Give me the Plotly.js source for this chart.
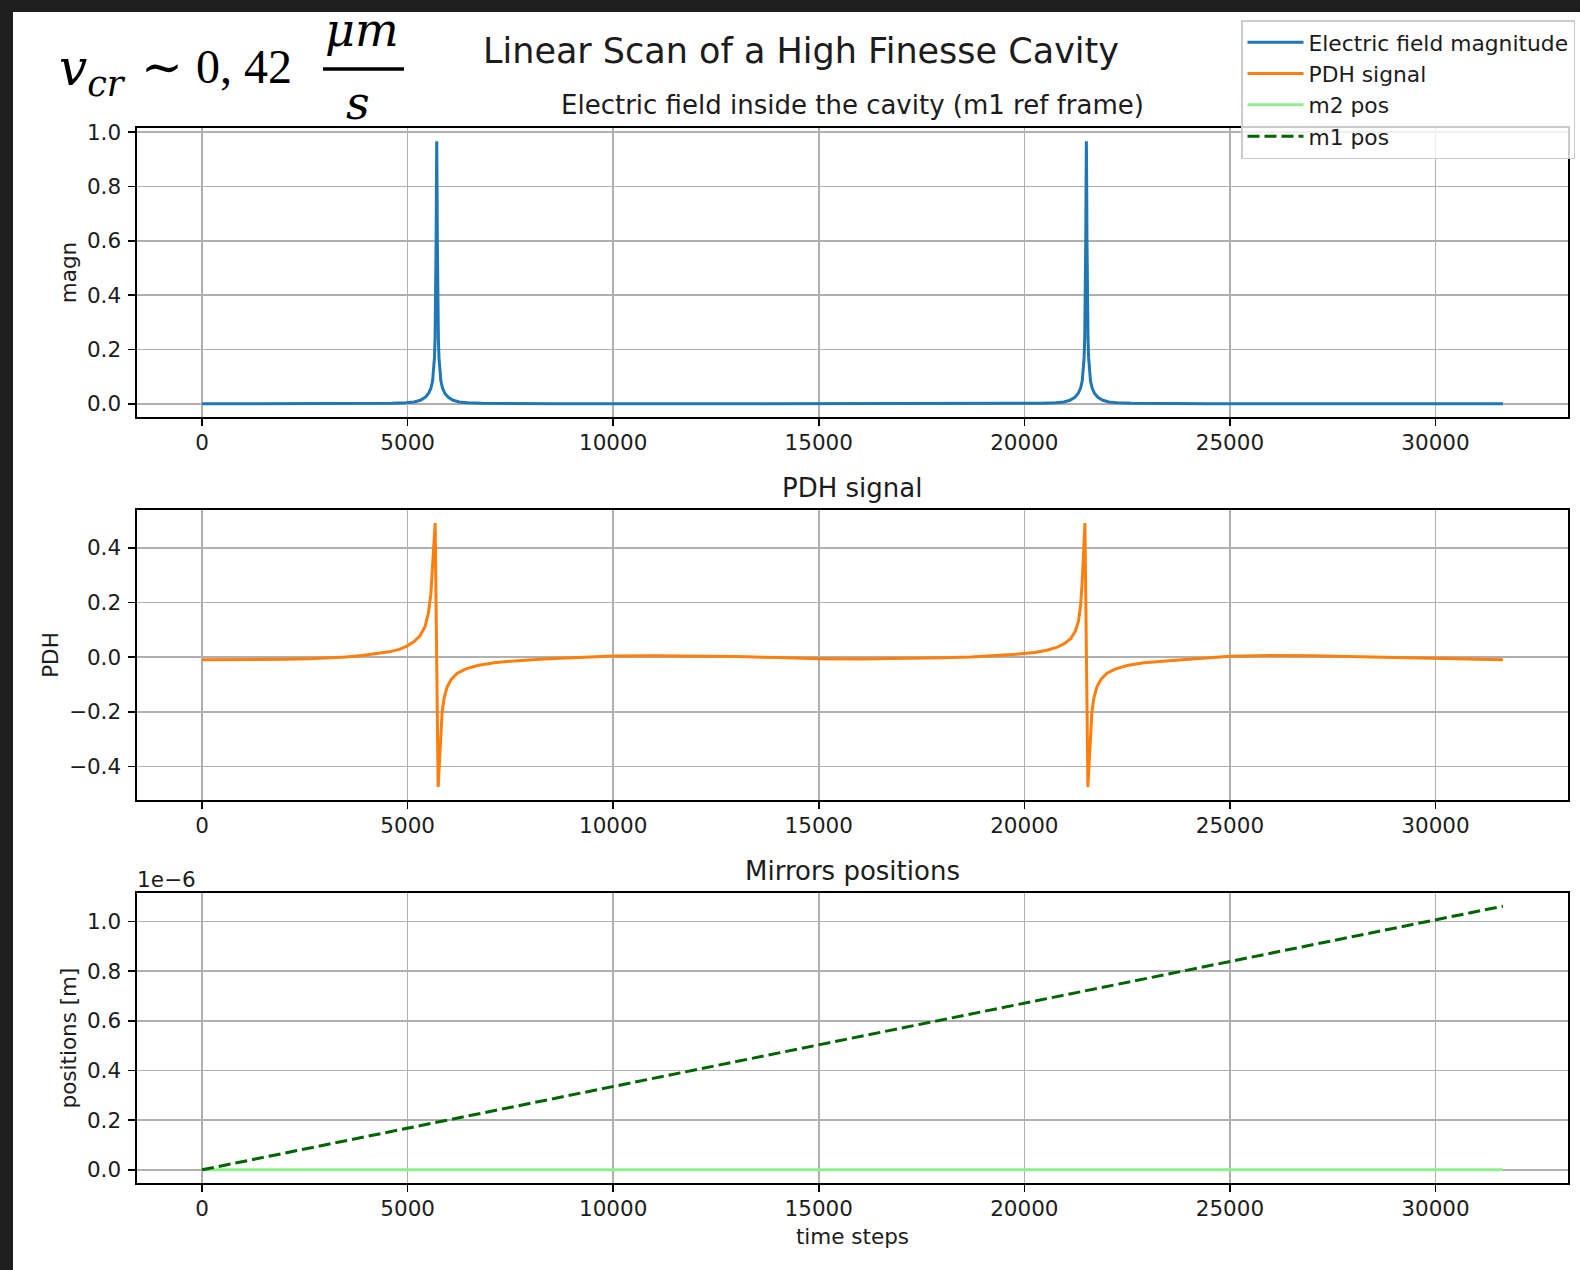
<!DOCTYPE html>
<html>
<head>
<meta charset="utf-8">
<script src="https://cdn.plot.ly/plotly-3.0.1.min.js"></script>
<style>
  html, body { margin: 0; padding: 0; background: #1e1e1e; }
  #chart { width: 1580px; height: 1270px; }
</style>
</head>
<body>
<div id="chart"></div>
<script>
// ---------------- DATA ----------------
const fieldSteps = [0, 1500,
  2708, 3908, 4608, 4958, 5158, 5308, 5428, 5508, 5568, 5608, 5633, 5653, 5668, 5678, 5686, 5693, 5700,
  5708, 5716, 5723, 5730, 5738, 5748, 5763, 5783, 5808, 5848, 5908, 5988, 6108, 6258, 6458, 6808, 7508, 8708,
  13000,
  18508, 19708, 20408, 20758, 20958, 21108, 21228, 21308, 21368, 21408, 21433, 21453, 21468, 21478, 21486, 21493, 21500,
  21508, 21516, 21523, 21530, 21538, 21548, 21563, 21583, 21608, 21648, 21708, 21788, 21908, 22058, 22258, 22608, 23308, 24508,
  28000, 31640];
const fieldMagn = [0.0001, 0.0002,
  0.0003, 0.001, 0.002, 0.004, 0.007, 0.013, 0.024, 0.038, 0.058, 0.085, 0.12, 0.17, 0.24, 0.33, 0.44, 0.60, 0.80,
  0.967, 0.80, 0.60, 0.44, 0.33, 0.24, 0.17, 0.12, 0.085, 0.058, 0.038, 0.024, 0.013, 0.007, 0.004, 0.002, 0.001, 0.0003,
  0.0001,
  0.0003, 0.001, 0.002, 0.004, 0.007, 0.013, 0.024, 0.038, 0.058, 0.085, 0.12, 0.17, 0.24, 0.33, 0.44, 0.60, 0.80,
  0.967, 0.80, 0.60, 0.44, 0.33, 0.24, 0.17, 0.12, 0.085, 0.058, 0.038, 0.024, 0.013, 0.007, 0.004, 0.002, 0.001, 0.0003,
  0.0002, 0.0001];

const pdhSteps = [0, 1000, 2000, 2600, 3100, 3500, 3900, 4250, 4550, 4800, 4980, 5150, 5300, 5425, 5505, 5565, 5605, 5630, 5650, 5670,
  5742, 5760, 5780, 5805, 5840, 5890, 5960, 6060, 6200, 6400, 6700, 7100, 7600, 8300, 9000,
  10000, 11000, 12000, 13000, 14000, 15000, 16000, 17000, 18000, 18700, 19300,
  19800, 20250, 20550, 20800, 20980, 21130, 21240, 21315, 21370, 21408, 21432, 21452, 21473,
  21545, 21563, 21583, 21608, 21643, 21693, 21763, 21863, 22003, 22203, 22503, 22903, 23400, 24000,
  25000, 26000, 27000, 28000, 29000, 30000, 31000, 31640];
const pdhSignal = [-0.010, -0.010, -0.008, -0.006, -0.003, 0.000, 0.006, 0.012, 0.019, 0.028, 0.040, 0.056, 0.078, 0.112, 0.16, 0.23, 0.32, 0.40, 0.46, 0.49,
  -0.475, -0.42, -0.34, -0.27, -0.20, -0.148, -0.11, -0.082, -0.060, -0.044, -0.031, -0.021, -0.014, -0.007, -0.002,
  0.004, 0.005, 0.004, 0.002, -0.002, -0.006, -0.007, -0.006, -0.003, 0.000, 0.004,
  0.010, 0.017, 0.025, 0.036, 0.050, 0.068, 0.095, 0.13, 0.19, 0.28, 0.37, 0.45, 0.49,
  -0.475, -0.42, -0.34, -0.27, -0.20, -0.148, -0.11, -0.082, -0.060, -0.044, -0.031, -0.021, -0.014, -0.008,
  0.003, 0.006, 0.005, 0.002, -0.002, -0.005, -0.008, -0.010];

const posSteps = [0, 31640];
const m2Pos = [0, 0];
const m1Pos = [0, 1.062e-6];

const xTickVals = [0, 5000, 10000, 15000, 20000, 25000, 30000];
const posTickVals = [0, 0.2e-6, 0.4e-6, 0.6e-6, 0.8e-6, 1.0e-6];
const posTickText = ["0.0", "0.2", "0.4", "0.6", "0.8", "1.0"];

const seriesNames = ["Electric field magnitude", "PDH signal", "m2 pos", "m1 pos"];
const mainTitle = "Linear Scan of a High Finesse Cavity";
const subTitles = ["Electric field inside the cavity (m1 ref frame)", "PDH signal", "Mirrors positions"];

// ---------------- LAYOUT HELPERS ----------------
const W = 1580, H = 1270;
const px = x => x / W;
const py = y => 1 - y / H;
const FONT = "DejaVu Sans, Liberation Sans, sans-serif";
const TXT = "#1c1c1c";
const TICK = 21.5;

function xAxis(anchor, showTitle) {
  const a = {
    domain: [px(137), px(1568)], range: [-1582, 33222], anchor: anchor,
    tickvals: xTickVals, tickformat: "d",
    showgrid: true, gridcolor: "#b0b0b0", gridwidth: 1.6,
    showline: true, mirror: true, linecolor: "#000", linewidth: 1.6,
    ticks: "outside", ticklen: 7, tickwidth: 1.6, tickcolor: "#000",
    zeroline: false, ticklabelstandoff: -1,
    tickfont: {family: FONT, size: TICK, color: TXT}
  };
  if (showTitle) a.title = {text: "time steps", font: {family: FONT, size: TICK, color: TXT}, standoff: 8};
  return a;
}
function yAxis(anchor, dom, range, title, extra) {
  return Object.assign({
    domain: dom, range: range, anchor: anchor,
    showgrid: true, gridcolor: "#b0b0b0", gridwidth: 1.6,
    showline: true, mirror: true, linecolor: "#000", linewidth: 1.6,
    ticks: "outside", ticklen: 7, tickwidth: 1.6, tickcolor: "#000",
    zeroline: false, ticklabelstandoff: 3,
    tickfont: {family: FONT, size: TICK, color: TXT},
    title: {text: title, font: {family: FONT, size: TICK, color: TXT}, standoff: 4}
  }, extra || {});
}

const traces = [
  {x: fieldSteps, y: fieldMagn, xaxis: "x", yaxis: "y", type: "scatter", mode: "lines",
   name: seriesNames[0], line: {color: "#1f77b4", width: 3}},
  {x: pdhSteps, y: pdhSignal, xaxis: "x2", yaxis: "y2", type: "scatter", mode: "lines",
   name: seriesNames[1], line: {color: "#ff7f0e", width: 3}},
  {x: posSteps, y: m2Pos, xaxis: "x3", yaxis: "y3", type: "scatter", mode: "lines",
   name: seriesNames[2], line: {color: "#90ee90", width: 3}},
  {x: posSteps, y: m1Pos, xaxis: "x3", yaxis: "y3", type: "scatter", mode: "lines",
   name: seriesNames[3], line: {color: "#006400", width: 3, dash: "12px,5px"}}
];

const serif = "Liberation Serif, DejaVu Serif, serif";
const mathSerif = "DejaVu Serif, Liberation Serif, serif";
const layout = {
  width: W, height: H,
  margin: {l: 0, r: 0, t: 0, b: 0},
  paper_bgcolor: "#ffffff", plot_bgcolor: "#ffffff",
  showlegend: true,
  title: {text: mainTitle, x: px(801), xanchor: "center", y: py(51), yanchor: "middle",
          font: {family: FONT, size: 35, color: TXT}},
  xaxis: xAxis("y", false),
  yaxis: yAxis("x", [py(417), py(128)], [-0.0484, 1.0154], "magn",
               {tickvals: [0, 0.2, 0.4, 0.6, 0.8, 1.0], tickformat: ".1f"}),
  xaxis2: xAxis("y2", false),
  yaxis2: yAxis("x2", [py(800), py(510)], [-0.523, 0.538], "PDH",
                {tickvals: [-0.4, -0.2, 0, 0.2, 0.4], tickformat: ".1f"}),
  xaxis3: xAxis("y3", true),
  yaxis3: yAxis("x3", [py(1183), py(893)], [-0.0531e-6, 1.1151e-6], "positions [m]",
                {tickvals: posTickVals, ticktext: posTickText}),
  legend: {x: px(1241), y: py(20), xanchor: "left", yanchor: "top", itemwidth: 56,
           bgcolor: "rgba(255,255,255,0.8)", bordercolor: "#cccccc", borderwidth: 1.5,
           font: {family: FONT, size: 21.8, color: TXT}, traceorder: "normal"},
  shapes: [
    {type: "rect", xref: "paper", yref: "paper", x0: 0, x1: px(13), y0: 0, y1: 1,
     fillcolor: "#1e1e1e", line: {width: 0}, layer: "below"},
    {type: "rect", xref: "paper", yref: "paper", x0: 0, x1: 1, y0: py(12), y1: 1,
     fillcolor: "#1e1e1e", line: {width: 0}, layer: "below"},
    {type: "line", xref: "paper", yref: "paper", x0: px(323), x1: px(404), y0: py(69), y1: py(69),
     line: {color: "#000", width: 3.5}}
  ],
  annotations: [
    {text: subTitles[0], x: px(852), y: py(105), xref: "paper", yref: "paper", showarrow: false,
     xanchor: "center", yanchor: "middle", font: {family: FONT, size: 26, color: TXT}},
    {text: subTitles[1], x: px(852), y: py(488), xref: "paper", yref: "paper", showarrow: false,
     xanchor: "center", yanchor: "middle", font: {family: FONT, size: 26, color: TXT}},
    {text: subTitles[2], x: px(852), y: py(871), xref: "paper", yref: "paper", showarrow: false,
     xanchor: "center", yanchor: "middle", font: {family: FONT, size: 26, color: TXT}},
    {text: "1e\u22126", x: px(135), y: py(879), xref: "paper", yref: "paper", showarrow: false,
     xanchor: "left", yanchor: "middle", font: {family: FONT, size: TICK, color: TXT}},
    {text: "<i>v</i><sub><i>cr</i></sub>", x: px(57), y: py(72), xref: "paper", yref: "paper", showarrow: false,
     xanchor: "left", yanchor: "middle", font: {family: mathSerif, size: 50, color: "#000"}},
    {text: "\u223C", x: px(162), y: py(67), xref: "paper", yref: "paper", showarrow: false,
     xanchor: "center", yanchor: "middle", font: {family: mathSerif, size: 50, color: "#000"}},
    {text: "0, 42", x: px(194), y: py(66), xref: "paper", yref: "paper", showarrow: false,
     xanchor: "left", yanchor: "middle", font: {family: serif, size: 48, color: "#000"}},
    {text: "<i>\u03BCm</i>", x: px(362), y: py(30), xref: "paper", yref: "paper", showarrow: false,
     xanchor: "center", yanchor: "middle", font: {family: mathSerif, size: 46, color: "#000"}},
    {text: "<i>s</i>", x: px(358), y: py(103), xref: "paper", yref: "paper", showarrow: false,
     xanchor: "center", yanchor: "middle", font: {family: mathSerif, size: 46, color: "#000"}}
  ]
};

Plotly.newPlot("chart", traces, layout, {displayModeBar: false, staticPlot: true});
</script>
</body>
</html>
